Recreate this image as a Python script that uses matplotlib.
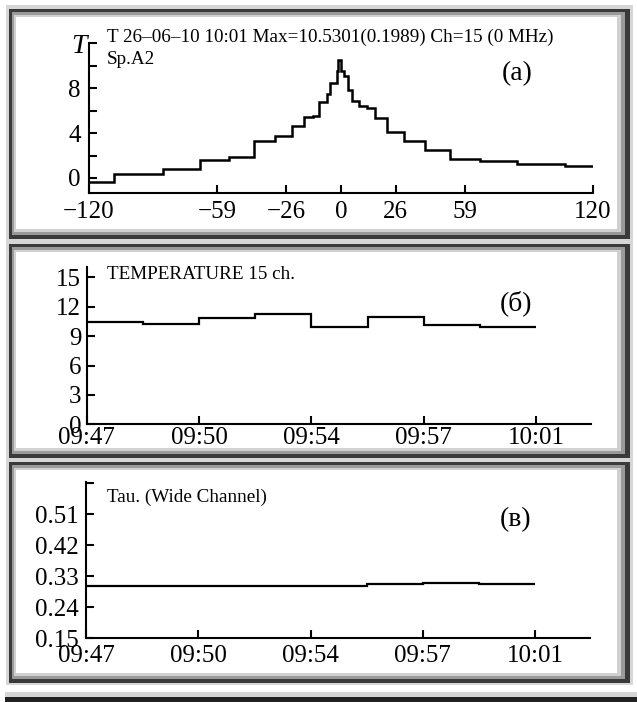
import matplotlib
matplotlib.use("Agg")
import matplotlib.pyplot as plt
from matplotlib.patches import Rectangle

W, H = 637, 702

# --- panel (a): T profile across the source, arcsec ---
a_edges = [-120, -108.1, -84.8, -67.1, -53.3, -41.4, -31.4, -23.3, -17.6, -13.3,
           -10.5, -6.8, -5.2, -2.0, -1.6, 0.0, 1.6, 3.5, 5.4, 8.7,
           12.2, 16.2, 21.8, 30.0, 40.0, 52.0, 66.2, 83.7, 106.7, 120]
a_vals = [-0.38, 0.33, 0.8, 1.58, 1.85, 3.3, 3.72, 4.64, 5.42, 5.56,
          6.75, 7.5, 8.45, 9.5, 10.53, 9.5, 9.05, 7.86, 6.88, 6.37,
          6.22, 5.33, 4.13, 3.3, 2.5, 1.7, 1.55, 1.25, 1.07]
a_ticks = [-120, -59, -26, 0, 26, 59, 120]
a_ticklabels = ["\u2212120", "\u221259", "\u221226", "0", "26", "59", "120"]
a_yticks = [0, 2, 4, 6, 8, 10, 12]
a_yticklabels = ["0", "", "4", "", "8", "", ""]

# --- panels (б), (в): time series, minutes after 09:47 ---
t_edges = [0, 1.75, 3.5, 5.25, 7.0, 8.75, 10.5, 12.25, 14.0]
temp_vals = [10.4, 10.23, 10.85, 11.29, 9.93, 10.95, 10.1, 9.93]
tau_vals = [0.302, 0.302, 0.302, 0.302, 0.302, 0.3076, 0.3114, 0.3067]
time_ticks = [0, 3.5, 7.0, 10.5, 14.0]
time_labels = ["09:47", "09:50", "09:54", "09:57", "10:01"]
temp_yticks = [0, 3, 6, 9, 12, 15]
tau_yticks = [0.15, 0.24, 0.33, 0.42, 0.51, 0.60]
tau_yticklabels = ["0.15", "0.24", "0.33", "0.42", "0.51", ""]

title_a = "T 26\u201306\u201310 10:01 Max=10.5301(0.1989) Ch=15 (0 MHz)"

plt.rcParams["font.family"] = ["Liberation Serif", "DejaVu Serif"]

fig = plt.figure(figsize=(W / 100, H / 100), dpi=100)


def fx(px):
    return px / W


def fy(py):
    return 1 - py / H


def rect(x0, y0, x1, y1, color):
    fig.add_artist(Rectangle((fx(x0), fy(y1)), (x1 - x0) / W, (y1 - y0) / H,
                             transform=fig.transFigure, color=color, lw=0, zorder=-10))


def frame(wx0, wy0, wx1, wy1):
    # bevelled window border around a white plot area
    rect(wx0 - 9, wy0 - 12, wx1 + 16, wy1 + 12, "#d6d6d6")
    rect(wx0 - 7, wy0 - 8, wx1 + 13, wy1 + 10, "#3a3a3a")
    rect(wx0 - 4, wy0 - 5, wx1 + 8, wy1 + 6, "#9a9a9a")
    rect(wx0 - 2, wy0 - 2, wx1 + 4, wy1 + 3, "#d0d0d0")
    rect(wx0, wy0, wx1, wy1, "white")


rect(0, 0, W, H, "white")
frame(15.5, 17, 617, 229)
frame(15.5, 252, 617, 448)
frame(15.5, 470, 617, 673)
rect(5, 692, W, 697, "#d6d6d6")
rect(5, 697, W, 702, "#222222")


def make_axes(left, right, top, bottom):
    ax = fig.add_axes([fx(left), fy(bottom), (right - left) / W, (bottom - top) / H])
    ax.set_facecolor("none")
    for s in ["top", "right"]:
        ax.spines[s].set_visible(False)
    for s in ["left", "bottom"]:
        ax.spines[s].set_linewidth(1.5)
    ax.tick_params(direction="in", length=6, width=1.5, colors="black")
    return ax


# (a)
ax1 = make_axes(89, 593, 43.3, 193)
ax1.stairs(a_vals, a_edges, baseline=None, color="black", lw=1.8)
ax1.set_xlim(-120, 120)
ax1.set_ylim(-1.34, 12)
ax1.set_xticks(a_ticks)
ax1.set_xticklabels(a_ticklabels)
ax1.set_yticks(a_yticks)
ax1.set_yticklabels(a_yticklabels)
ax1.tick_params(axis="both", labelsize=18)
ax1.tick_params(axis="x", pad=6)
ax1.tick_params(axis="y", pad=6)

# (б)
ax2 = make_axes(86.7, 591.3, 266.7, 424.3)
ax2.stairs(temp_vals, t_edges, baseline=None, color="black", lw=1.6)
ax2.set_xlim(0, 15.72)
ax2.set_ylim(0, 16.1)
ax2.set_xticks(time_ticks)
ax2.set_xticklabels(time_labels)
ax2.set_yticks(temp_yticks)
ax2.tick_params(axis="both", labelsize=18)
ax2.tick_params(axis="x", pad=2)
ax2.tick_params(axis="y", pad=4)

# (в)
ax3 = make_axes(86, 590.3, 481.7, 638.3)
ax3.stairs(tau_vals, t_edges, baseline=None, color="black", lw=1.6)
ax3.set_xlim(0, 15.72)
ax3.set_ylim(0.15, 0.6045)
ax3.set_xticks(time_ticks)
ax3.set_xticklabels(time_labels)
ax3.set_yticks(tau_yticks)
ax3.set_yticklabels(tau_yticklabels)
ax3.tick_params(axis="both", labelsize=18)
ax3.tick_params(axis="x", pad=4.5)
ax3.tick_params(axis="y", pad=5)

# texts
fig.text(fx(107), fy(41.7), title_a, fontsize=13.8, va="baseline", ha="left")
fig.text(fx(107), fy(64), "Sp.A2", fontsize=13.8, va="baseline", ha="left")
fig.text(fx(87), fy(52.7), "T", fontsize=20, style="italic", va="baseline", ha="right")
fig.text(fx(502), fy(80), "(\u0430)", fontsize=20, va="baseline", ha="left")
fig.text(fx(107), fy(279.3), "TEMPERATURE 15 ch.", fontsize=13.8, va="baseline", ha="left")
fig.text(fx(500), fy(310), "(\u0431)", fontsize=20, va="baseline", ha="left")
fig.text(fx(107), fy(502.3), "Tau. (Wide Channel)", fontsize=13.8, va="baseline", ha="left")
fig.text(fx(500), fy(526), "(\u0432)", fontsize=20, va="baseline", ha="left")

fig.savefig("out.png", dpi=100)
